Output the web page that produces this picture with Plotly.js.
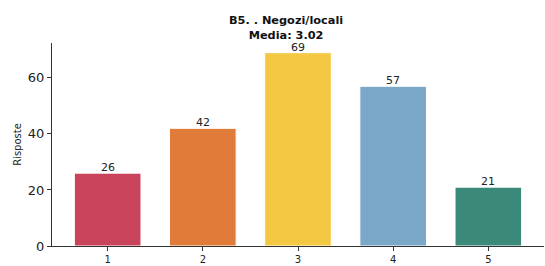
<!DOCTYPE html>
<html><head><meta charset="utf-8">
<script src="https://cdn.plot.ly/plotly-3.0.1.min.js"></script>
<style>html,body{margin:0;padding:0;background:#fff}</style>
</head><body><div id="chart" style="width:545px;height:266px"></div>
<script>
const categories = [1, 2, 3, 4, 5];
const values = [26, 42, 69, 57, 21];
const barColors = ['#C9445B', '#E07B3A', '#F3C843', '#7BA7C8', '#3A8979'];
const titleLines = ['B5. . Negozi/locali', 'Media: 3.02'];
const yTicks = [0, 20, 40, 60];

const trace = {
  type: 'bar', x: categories, y: values, width: 0.7,
  marker: {color: barColors, line: {color: '#ffffff', width: 1}},
  hoverinfo: 'none'
};
const labelAnns = categories.map((c, i) => ({
  x: c, y: values[i], xref: 'x', yref: 'y', text: String(values[i]),
  showarrow: false, yanchor: 'bottom', xanchor: 'center', yshift: -3,
  font: {family: 'DejaVu Sans', size: 11, color: '#222'}
}));
const titleAnn = {
  x: 0.476, y: 1, xref: 'paper', yref: 'paper', xanchor: 'center', yanchor: 'bottom', yshift: -1,
  showarrow: false, align: 'center',
  text: '<b>' + titleLines.join('<br>') + '</b>',
  font: {family: 'DejaVu Sans', size: 11.3, color: '#111'}
};
const layout = {
  width: 545, height: 266,
  margin: {l: 52, r: 1, t: 43, b: 20},
  paper_bgcolor: '#fff', plot_bgcolor: '#fff',
  font: {family: 'DejaVu Sans', color: '#222'},
  showlegend: false,
  annotations: [titleAnn].concat(labelAnns),
  xaxis: {range: [0.415, 5.585], tickvals: categories, ticktext: categories.map(String),
          showgrid: false, zeroline: false, showline: true, linecolor: '#333', linewidth: 1,
          ticks: 'outside', ticklen: 4, tickcolor: '#333', tickfont: {size: 10, color: '#222'}},
  yaxis: {range: [0, 72.45], tickvals: yTicks, showgrid: false, zeroline: false,
          showline: true, linecolor: '#333', linewidth: 1, ticks: 'outside', ticklen: 4, tickcolor: '#333',
          tickfont: {size: 13, color: '#222'},
          title: {text: 'Risposte', font: {size: 10, color: '#222'}, standoff: 4}}
};
Plotly.newPlot('chart', [trace], layout, {staticPlot: true, displayModeBar: false});
</script></body></html>
